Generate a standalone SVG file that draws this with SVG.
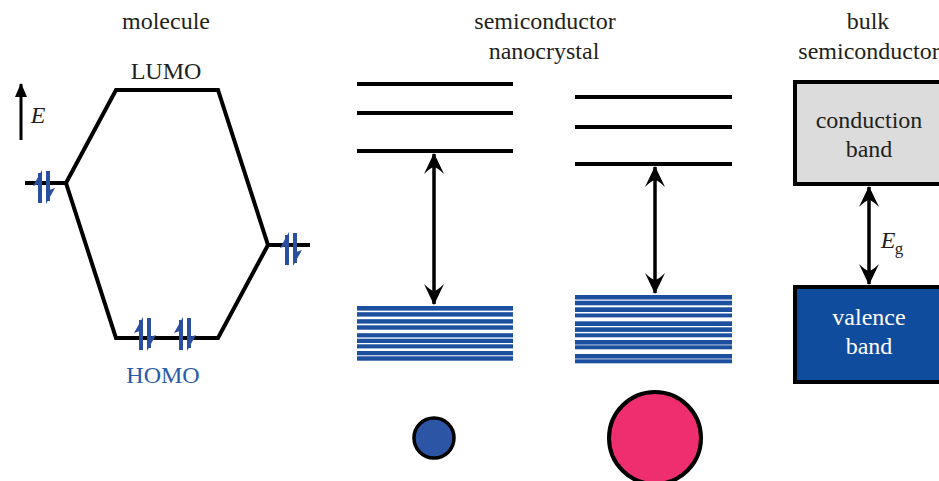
<svg xmlns="http://www.w3.org/2000/svg" xmlns:xlink="http://www.w3.org/1999/xlink" width="939" height="481" viewBox="0 0 939 481">
  <style>
    text { font-family: "Liberation Serif", "DejaVu Serif", serif; }
    .lbl { font-size: 24px; fill: #231f20; text-anchor: middle; }
    .ital { font-style: italic; }
    .lvl { stroke: #000; stroke-width: 4; fill: none; }
    .orb { stroke: #000; stroke-width: 4; fill: none; stroke-linejoin: miter; }
    .arr { stroke: #000; stroke-width: 3.5; fill: none; }
    .stripe { fill: #1d4f9f; }
  </style>
  <defs>
    <!-- electron pair: up harpoon + down harpoon -->
    <g id="spin">
      <line x1="-4" y1="16" x2="-4" y2="-14" stroke="#2a4f9e" stroke-width="4"/>
      <polygon points="-2,-17 -11,-1 -2,-4" fill="#2a4f9e"/>
      <line x1="4" y1="-16" x2="4" y2="14" stroke="#2a4f9e" stroke-width="4"/>
      <polygon points="2,17 11,1 2,4" fill="#2a4f9e"/>
    </g>
    <marker id="head" markerUnits="userSpaceOnUse" markerWidth="24" markerHeight="24" refX="0" refY="0" viewBox="-22 -11 24 22" orient="auto-start-reverse">
      <path d="M1,0 L-20,-10 Q-14,-4 -13,0 Q-14,4 -20,10 Z" fill="#000"/>
    </marker>
    <marker id="headSmall" markerUnits="userSpaceOnUse" markerWidth="16" markerHeight="14" refX="0" refY="0" viewBox="-14 -7 16 14" orient="auto">
      <path d="M1,0 L-13,-6 L-13,6 Z" fill="#000"/>
    </marker>
  </defs>

  <!-- column titles -->
  <g id="titles">
    <text class="lbl" x="166" y="29">molecule</text>
    <text class="lbl" x="545" y="29">semiconductor</text>
    <text class="lbl" x="544" y="59">nanocrystal</text>
    <text class="lbl" x="868" y="29">bulk</text>
    <text class="lbl" x="869" y="59">semiconductor</text>
  </g>

  <!-- molecular orbital diagram -->
  <g id="molecule">
    <polyline class="orb" points="25,183 66,183 116,90 218,90 268,245 310,245"/>
    <polyline class="orb" points="66,183 116,338 218,338 268,245"/>
    <text class="lbl" x="166" y="79">LUMO</text>
    <text class="lbl" x="163" y="383" style="fill:#2b5aa8">HOMO</text>
    <use xlink:href="#spin" x="44" y="187"/>
    <use xlink:href="#spin" x="291" y="249"/>
    <use xlink:href="#spin" x="145" y="334"/>
    <use xlink:href="#spin" x="185" y="334"/>
  </g>

  <!-- energy axis -->
  <g id="energy-axis">
    <line x1="21" y1="140" x2="21" y2="84" stroke="#000" stroke-width="3" marker-end="url(#headSmall)"/>
    <text class="lbl ital" x="38" y="123">E</text>
  </g>

  <!-- small nanocrystal -->
  <g id="nanocrystal-small">
    <line class="lvl" x1="357" y1="84" x2="513" y2="84"/>
    <line class="lvl" x1="357" y1="113" x2="513" y2="113"/>
    <line class="lvl" x1="357" y1="151" x2="513" y2="151"/>
    <g class="stripe">
      <rect x="357" y="306" width="156" height="4.6"/>
      <rect x="357" y="312.2" width="156" height="4.4"/>
      <rect x="357" y="319.2" width="156" height="4.4"/>
      <rect x="357" y="325.3" width="156" height="4.4"/>
      <rect x="357" y="333.2" width="156" height="4.2"/>
      <rect x="357" y="338.7" width="156" height="4.3"/>
      <rect x="357" y="344.3" width="156" height="4.1"/>
      <rect x="357" y="351" width="156" height="4.3"/>
      <rect x="357" y="356.3" width="156" height="4.4"/>
    </g>
    <circle cx="434" cy="438" r="20" fill="#2c55a6" stroke="#000" stroke-width="3.5"/>
  </g>

  <!-- large nanocrystal -->
  <g id="nanocrystal-large">
    <line class="lvl" x1="575" y1="97" x2="732" y2="97"/>
    <line class="lvl" x1="575" y1="127" x2="732" y2="127"/>
    <line class="lvl" x1="575" y1="164" x2="732" y2="164"/>
    <g class="stripe">
      <rect x="575" y="295" width="157" height="4.5"/>
      <rect x="575" y="300.7" width="157" height="4.6"/>
      <rect x="575" y="307.3" width="157" height="4.7"/>
      <rect x="575" y="313.5" width="157" height="3.9"/>
      <rect x="575" y="321.3" width="157" height="4.7"/>
      <rect x="575" y="327.3" width="157" height="4.6"/>
      <rect x="575" y="333.3" width="157" height="4"/>
      <rect x="575" y="340" width="157" height="4.6"/>
      <rect x="575" y="345.3" width="157" height="4"/>
      <rect x="575" y="354" width="157" height="4.6"/>
      <rect x="575" y="359.3" width="157" height="4"/>
    </g>
    <circle cx="655" cy="438" r="46" fill="#ee2e6e" stroke="#000" stroke-width="4"/>
  </g>

  <!-- bulk semiconductor bands -->
  <g id="conduction-band">
    <rect x="795" y="82" width="160" height="102" fill="#dcdcdc" stroke="#000" stroke-width="4"/>
    <text class="lbl" x="869" y="128">conduction</text>
    <text class="lbl" x="869" y="157">band</text>
  </g>
  <g id="valence-band">
    <rect x="795" y="287" width="160" height="95" fill="#0f4c9e" stroke="#000" stroke-width="4"/>
    <text class="lbl" x="869" y="325" style="fill:#fff">valence</text>
    <text class="lbl" x="869" y="354" style="fill:#fff">band</text>
  </g>

  <!-- gap arrows -->
  <g id="connectors">
    <line class="arr" x1="434" y1="154" x2="434" y2="304" marker-start="url(#head)" marker-end="url(#head)"/>
    <line class="arr" x1="655" y1="167" x2="655" y2="293" marker-start="url(#head)" marker-end="url(#head)"/>
    <line class="arr" x1="869" y1="187" x2="869" y2="284" marker-start="url(#head)" marker-end="url(#head)"/>
    <text class="lbl ital" x="888" y="248">E</text>
    <text class="lbl" x="899" y="254" style="font-size:17px">g</text>
  </g>
</svg>
